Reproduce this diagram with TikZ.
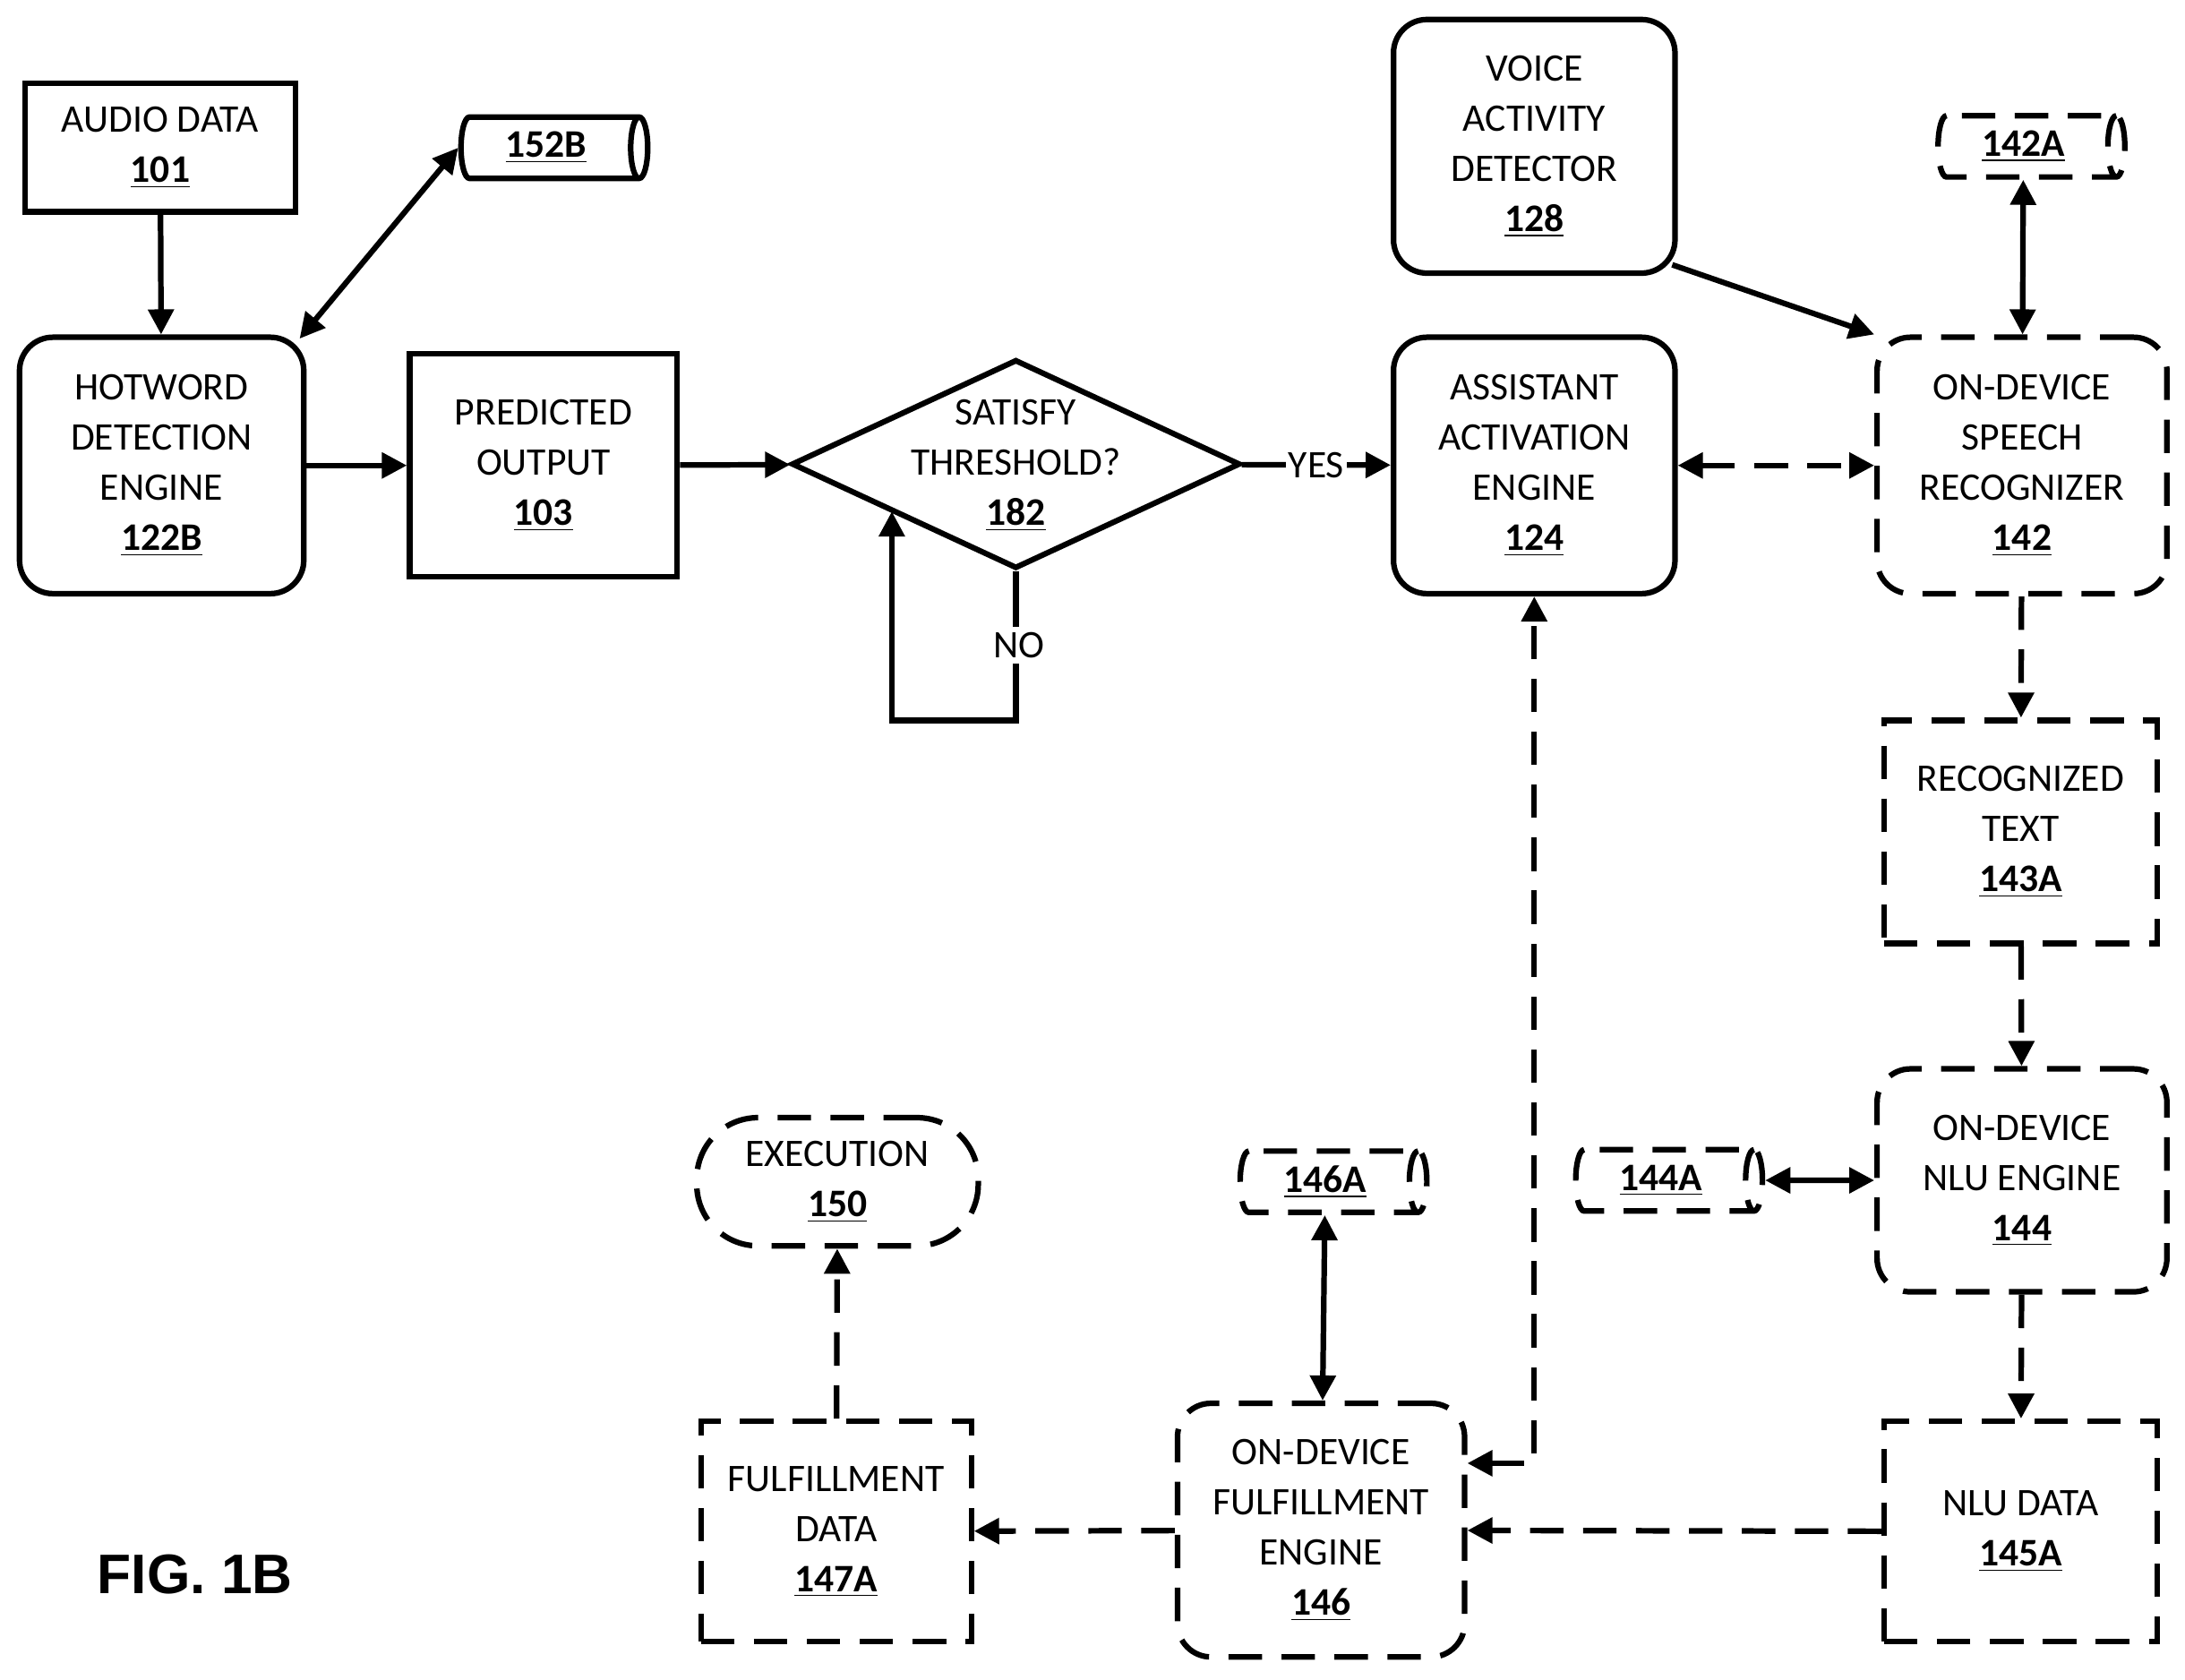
\documentclass[tikz,border=0pt]{standalone}
\usepackage{fontspec}
\setmainfont{Carlito}
\newfontfamily\figfont{Liberation Sans}
\usetikzlibrary{positioning, arrows.meta, shapes.geometric}
\newcommand{\num}[1]{\underline{\textbf{#1}}}
\tikzset{
  box/.style={draw, line width=2pt, align=center, font=\fontsize{14}{18}\selectfont, inner sep=2pt},
  rbox/.style={box, rounded corners=12pt},
  dbox/.style={box, dash pattern=on 12pt off 7pt},
  drbox/.style={rbox, dash pattern=on 12pt off 7pt},
  store/.style={box, cylinder, shape aspect=0.4, minimum width=22pt, minimum height=67pt},
  arr/.style={line width=2pt, -{Triangle[length=9pt,width=9pt]}},
  darr/.style={arr, dash pattern=on 12pt off 7pt},
  both/.style={{Triangle[length=9pt,width=9pt]}-{Triangle[length=9pt,width=9pt]}},
}
\begin{document}
\begin{tikzpicture}[x=0.5pt, y=-0.5pt]
    \useasboundingbox (0,0) rectangle (1568,1205);
    % Nodes
    \node[box, minimum width=97pt, minimum height=46pt] (Audio) at (115,106) {AUDIO DATA\\\num{101}};
    \node[store] (DB152) at (392,106) {\num{152B}};
    \node[rbox, minimum width=102pt, minimum height=92pt] (Hotword) at (116,334) {HOTWORD\\DETECTION\\ENGINE\\\num{122B}};
    \node[box, minimum width=96pt, minimum height=80pt] (Predicted) at (390,334) {PREDICTED\\OUTPUT\\\num{103}};
    \node[draw, line width=2pt, diamond, minimum width=161pt, minimum height=75pt, inner sep=0pt] (Threshold) at (729,333) {};
    \node[align=center, font=\fontsize{14}{18}\selectfont] (ThresholdText) at (729,334) {SATISFY\\THRESHOLD?\\\num{182}};
    \node[rbox, minimum width=101pt, minimum height=92pt] (Assistant) at (1101,334) {ASSISTANT\\ACTIVATION\\ENGINE\\\num{124}};
    \node[rbox, minimum width=101pt, minimum height=91pt] (VAD) at (1101,105) {VOICE\\ACTIVITY\\DETECTOR\\\num{128}};
    \node[store, dash pattern=on 12pt off 7pt] (DB142) at (1452,105) {\num{142A}};
    \node[drbox, minimum width=104pt, minimum height=92pt] (Speech) at (1451,334) {ON-DEVICE\\SPEECH\\RECOGNIZER\\\num{142}};
    \node[dbox, minimum width=98pt, minimum height=80pt] (Text) at (1450,597) {RECOGNIZED\\TEXT\\\num{143A}};
    \node[drbox, minimum width=104pt, minimum height=80pt] (NLU) at (1451,847) {ON-DEVICE\\NLU ENGINE\\\num{144}};
    \node[store, dash pattern=on 12pt off 7pt] (DB144) at (1192,847) {\num{144A}};
    \node[dbox, minimum width=98pt, minimum height=79pt] (NLUData) at (1450,1099) {NLU DATA\\\num{145A}};
    \node[drbox, minimum width=103pt, minimum height=91pt] (Fulfill) at (948,1098) {ON-DEVICE\\FULFILLMENT\\ENGINE\\\num{146}};
    \node[store, dash pattern=on 12pt off 7pt] (DB146) at (951,848) {\num{146A}};
    \node[dbox, minimum width=97pt, minimum height=79pt] (FData) at (600,1099) {FULFILLMENT\\DATA\\\num{147A}};
    \node[drbox, rounded corners=22pt, minimum width=101pt, minimum height=46pt] (Exec) at (601,848) {EXECUTION\\\num{150}};
    \node[font=\fontsize{20}{24}\selectfont\bfseries\figfont] (Fig) at (140,1130) {FIG. 1B};
    \coordinate (LoopA) at (729,517);
    \coordinate (LoopB) at (640,517);
    \coordinate (Bend) at (1101,1050);

    % Paths
    \draw[arr] (Audio) -- (Hotword);
    \draw[arr, both] (Hotword.north east) ++(-5,3) -- (DB152.west);
    \draw[arr] (Hotword) -- (Predicted);
    \draw[arr] (Predicted) -- (Threshold);
    \draw[arr] (Threshold) -- node[fill=white, inner sep=1pt, font=\fontsize{14}{18}\selectfont] {YES} (Assistant);
    \draw[arr] (Threshold.south) -- (LoopA) -- (LoopB) -- (640,367);
    \node[font=\fontsize{14}{18}\selectfont, fill=white, inner sep=2pt] (No) at (731,463) {NO};
    \draw[arr] (VAD.south east) ++(-4,-8) -- (Speech.north west);
    \draw[darr, both] (Assistant) -- (Speech);
    \draw[arr, both] (DB142) -- (Speech);
    \draw[darr] (Speech) -- (Text);
    \draw[darr] (Text) -- (NLU);
    \draw[arr, both] (DB144) -- (NLU);
    \draw[darr] (NLU) -- (NLUData);
    \draw[darr] (NLUData) -- (Fulfill);
    \draw[darr, both] (Fulfill.east |- Bend) -- (Bend) -- (Assistant);
    \draw[arr, both] (DB146) -- (Fulfill);
    \draw[darr] (Fulfill) -- (FData);
    \draw[darr] (FData) -- (Exec);
\end{tikzpicture}
\end{document}
